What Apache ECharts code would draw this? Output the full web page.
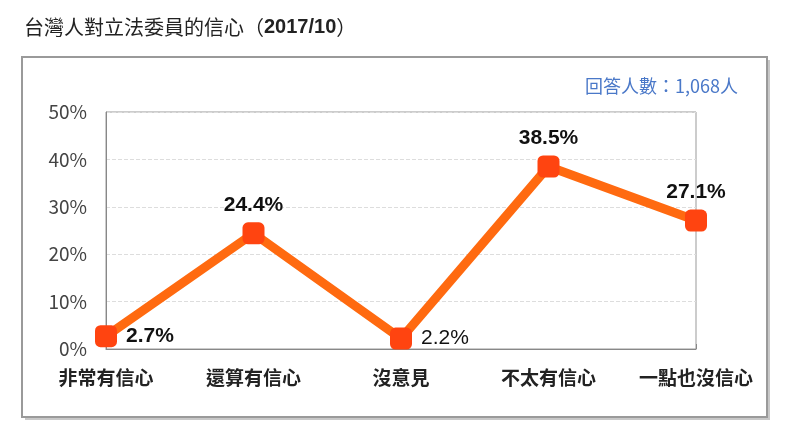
<!DOCTYPE html>
<html><head><meta charset="utf-8">
<script src="https://cdn.jsdelivr.net/npm/echarts@6/dist/echarts.min.js"></script>
<style>html,body{margin:0;padding:0;background:#fff}#c{width:800px;height:447px}</style>
</head><body><div id="c"></div>
<script>
const categories = ['非常有信心','還算有信心','沒意見','不太有信心','一點也沒信心'];
const values = [2.7, 24.4, 2.2, 38.5, 27.1];
const yTicks = [0, 10, 20, 30, 40, 50];
const labelPos = ['right','top','right','top','top'];
const labelBold = [true, true, false, true, true];

const chart = echarts.init(document.getElementById('c'));
const FONT = 'Liberation Sans, Noto Sans CJK TC, sans-serif';
chart.setOption({
  backgroundColor: '#fff',
  animation: false,
  graphic: [
    {type:'rect', shape:{x:25,y:60,width:745,height:360}, style:{fill:'#c8c8c8'}, z:-2},
    {type:'rect', shape:{x:22,y:57,width:745,height:360}, style:{fill:'#fff', stroke:'#9a9a9a', lineWidth:2}, z:-1},
    {type:'text', left:24, top:17, style:{
      text:'{a|台灣人對立法委員的信心（}{b|2017/10}{a|）}',
      rich:{a:{fontSize:20, fontFamily:'Noto Sans CJK TC', fill:'#222'}, b:{fontSize:20, fontWeight:'bold', fontFamily:FONT, fill:'#222'}}
    }},
    {type:'text', right:62, top:77, style:{text:'回答人數：1,068人', fontSize:18, fontFamily:'Noto Sans CJK TC, Liberation Sans', fill:'#4a78c8'}}
  ],
  grid: {left:106, right:104, top:112, bottom:98, show:true, borderColor:'#999', borderWidth:1},
  xAxis: {
    type:'category', data:categories, boundaryGap:false,
    axisLine:{lineStyle:{color:'#888', width:1}},
    axisTick:{show:true, inside:true, length:5, interval:1, lineStyle:{color:'#888'}},
    axisLabel:{interval:0, hideOverlap:false, fontSize:19, fontWeight:'bold', color:'#222', fontFamily:'Noto Sans CJK TC', margin:19},
    splitLine:{show:false}
  },
  yAxis: {
    type:'value', min:0, max:50, interval:10,
    axisLine:{show:true, lineStyle:{color:'#888'}},
    axisTick:{show:false},
    axisLabel:{fontSize:19, color:'#444', fontFamily:'Noto Sans CJK TC, Liberation Sans', margin:19,
      formatter: v => yTicks.includes(v) ? v + '%' : ''},
    splitLine:{show:true, lineStyle:{color:'#ddd', type:'dashed'}}
  },
  series: [{
    type:'line',
    data: values.map((v,i)=>({value:v, label:{position:labelPos[i], fontWeight: labelBold[i]?'bold':'normal', distance: labelPos[i]==='right'?9:7}})),
    lineStyle:{color:'#ff6a10', width:9},
    symbol:'roundRect', symbolSize:22,
    itemStyle:{color:'#ff4410'},
    label:{show:true, formatter: p => p.value.toFixed(1) + '%', fontSize:21, color:'#111', fontFamily:FONT},
    z:3
  }]
});
</script></body></html>
